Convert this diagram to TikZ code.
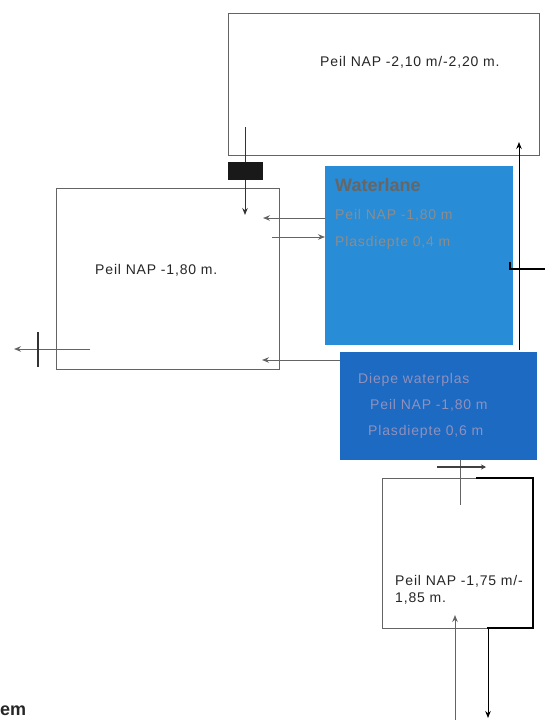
\documentclass[tikz,border=0pt]{standalone}
\usepackage{fontspec}
\setmainfont{Liberation Sans}
\usetikzlibrary{arrows.meta}
\definecolor{laneblue}{RGB}{40,140,215}
\definecolor{deepblue}{RGB}{28,106,194}
\definecolor{boxline}{RGB}{100,100,100}

\tikzset{
    pond/.style = {draw=boxline, line width=1pt, inner sep=0pt, outer sep=0pt},
    flow/.style = {draw=boxline, line width=1pt, -{Stealth[length=7pt, width=5.5pt]}},
    label/.style = {font=\fontsize{14}{17}\selectfont\addfontfeatures{LetterSpace=6}, text=black!85, inner sep=0pt}
}

\begin{document}
\begin{tikzpicture}[x=1pt, y=-1pt]
        \useasboundingbox (0,0) rectangle (545,725);
        % ponds
        \node[pond, minimum width=311pt, minimum height=141pt] (top) at (383.5,84.5) {};
        \node[pond, minimum width=223pt, minimum height=181pt] (left) at (167.5,278.5) {};
        \node[pond, draw=none, fill=laneblue, minimum width=188pt, minimum height=179pt] (lane) at (419,255.5) {};
        \node[pond, draw=none, fill=deepblue, minimum width=197pt, minimum height=108pt] (deep) at (438.5,406) {};
        \node[pond, minimum width=151pt, minimum height=150pt] (low) at (457.5,553) {};
        \draw[line width=1.1pt] (476,478) -- (533,478) -- (533,628) -- (487,628);

        % texts
        \node[label, anchor=west] (toptext) at (320,62) {Peil NAP -2,10 m/-2,20 m.};
        \node[label, anchor=west] (lefttext) at (95,270) {Peil NAP -1,80 m.};
        \node[label, anchor=north west, align=left] (lowtext) at (395,575) {Peil NAP -1,75 m/-\\1,85 m.};
        \node[label, anchor=west, text=black!60, font=\fontsize{18}{20}\selectfont\bfseries] (lanetitle) at (335,185) {Waterlane};
        \node[label, anchor=west, text=black!45] (lanepeil) at (335,215) {Peil NAP -1,80 m};
        \node[label, anchor=west, text=black!45] (lanedepth) at (335,243) {Plasdiepte 0,4 m};
        \node[label, anchor=west, text=blue!25!gray!70] (deeptitle) at (358,380) {Diepe waterplas};
        \node[label, anchor=west, text=blue!25!gray!70] (deeppeil) at (370,405) {Peil NAP -1,80 m};
        \node[label, anchor=west, text=blue!25!gray!70] (deepdepth) at (368,432) {Plasdiepte 0,6 m};
        \node[anchor=west, inner sep=0pt, font=\fontsize{18}{20}\selectfont\bfseries, text=black!85] (cut) at (0,711) {em};

        % connector ends
        \coordinate (a1) at (245,127);
        \coordinate (a2) at (245,215);
        \coordinate (b1) at (263,218);
        \coordinate (c1) at (272,237);
        \coordinate (d1) at (90,349);
        \coordinate (d2) at (14,349);
        \coordinate (e1) at (262,360);
        \coordinate (f1) at (519,142);
        \coordinate (g1) at (460,505);
        \coordinate (h1) at (455,720);
        \coordinate (h2) at (455,615);
        \coordinate (k1) at (488,718);

        % flows
        \draw[flow, draw=black!80] (a1) -- (a2);
        \fill[black!90] (228,162) rectangle (263,180);
        \draw[flow] (lane.west |- b1) -- (b1);
        \draw[flow] (c1) -- (lane.west |- c1);
        \draw[flow] (d1) -- (d2);
        \draw[line width=2.2pt, black!80] (38,332) -- (38,367);
        \draw[flow] (deep.west |- e1) -- (e1);
        \draw[flow, draw=black] (519,350) -- (f1);
        \draw[line width=1.8pt] (510,262) -- (510,269) -- (545,269);
        \draw[draw=boxline, line width=1pt] (deep.south -| g1) -- (g1);
        \draw[line width=2pt, black!75, -{Stealth[length=5pt, width=5pt]}] (437,467) -- (486,467);
        \draw[flow] (h1) -- (h2);
        \draw[flow, draw=black] (488,628) -- (k1);
    \end{tikzpicture}
\end{document}
